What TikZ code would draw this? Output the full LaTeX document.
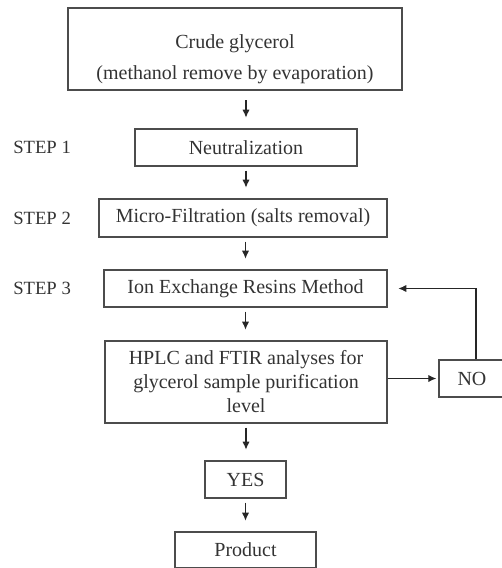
\documentclass[tikz,border=0pt]{standalone}
\usepackage{fontspec}
\setmainfont{Liberation Serif}
\usetikzlibrary{arrows.meta}

\begin{document}
\begin{tikzpicture}[x=0.75pt,y=-0.75pt,
  box/.style={draw=black!70,line width=1pt,text=black!80,inner sep=0pt,align=center,
    font=\fontsize{15}{18}\selectfont},
  arr/.style={draw=black!85,line width=0.9pt,-{Latex[length=6pt,width=5.5pt]},shorten <=3pt,shorten >=8pt},
  steplbl/.style={anchor=west,inner sep=0pt,text=black!80,font=\fontsize{14}{16}\selectfont}]
\useasboundingbox (0,0) rectangle (501,568);
% draw boxes
\node[box,minimum width=250.5pt,minimum height=61.5pt] (crude) at (235,49)
  {\mbox{}\\[8pt]Crude glycerol\\[5pt](methanol remove by evaporation)};
\node[box,minimum width=166.5pt,minimum height=27.75pt] (neut) at (246,147.5) {Neutralization};
\node[box,minimum width=216pt,minimum height=28.5pt] (micro) at (243,218) {Micro-Filtration (salts removal)};
\node[box,minimum width=212.25pt,minimum height=27.75pt] (ion) at (245.5,288.5) {Ion Exchange Resins Method};
\node[box,minimum width=211.5pt,minimum height=61.5pt] (hplc) at (246,382)
  {HPLC and FTIR analyses for\\glycerol sample purification\\level};
\node[box,minimum width=55.5pt,minimum height=27.75pt] (no) at (476,378.5) {\hspace*{-6pt}NO};
\node[box,minimum width=60.75pt,minimum height=27.75pt] (yes) at (245.5,479.5) {YES};
\node[box,minimum width=105.75pt,minimum height=27pt] (prod) at (245.5,550) {Product};
% draw step labels
\node[steplbl] (s1) at (13,147.5) {STEP 1};
\node[steplbl] (s2) at (13,218) {STEP 2};
\node[steplbl] (s3) at (13,288.5) {STEP 3};
% draw arrows
\draw[arr,shorten <=7pt] (crude.south -| neut.north) -- (neut.north);
\draw[arr] (neut.south) -- (neut.south |- micro.north);
\draw[arr] (micro.south -| ion.north) -- (ion.north);
\draw[arr] (ion.south) -- (ion.south |- hplc.north);
\draw[arr] (hplc.south) -- (hplc.south |- yes.north);
\draw[arr] (yes.south) -- (prod.north);
\draw[arr,shorten <=0pt,shorten >=1.5pt] (hplc.east |- no.west) -- (no.west);
\draw[arr,shorten <=0pt] (no.north) |- (ion.east);
\end{tikzpicture}
\end{document}
